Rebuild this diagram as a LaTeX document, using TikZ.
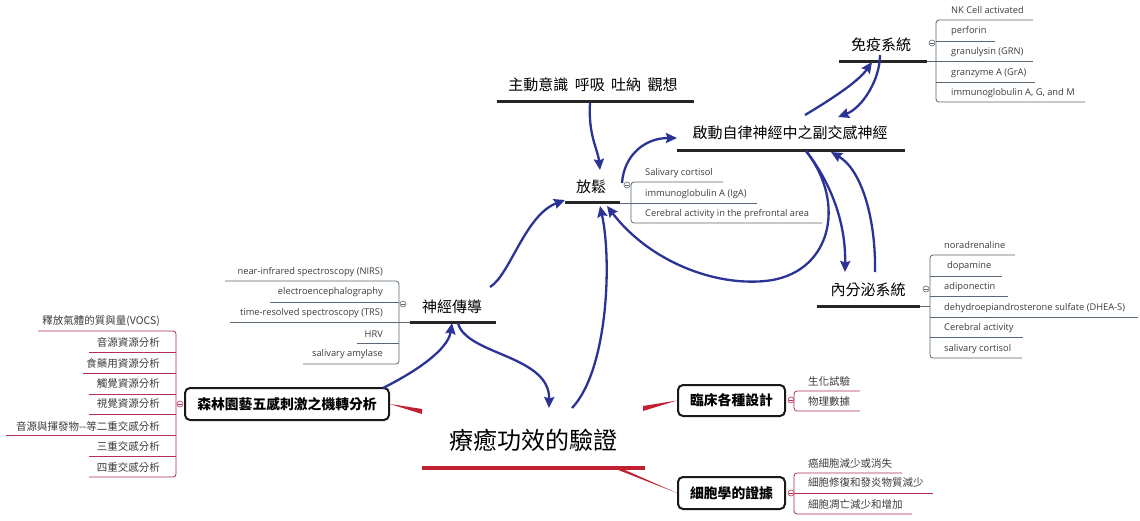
\documentclass[tikz,border=0pt]{standalone}
\usepackage{fontspec}
\setmainfont{Open Sans}
\newfontfamily\cjk{Noto Sans CJK TC}
\usetikzlibrary{arrows.meta}
\definecolor{arrblue}{RGB}{43,52,150}
\definecolor{redl}{RGB}{192,32,48}
\definecolor{pinkl}{RGB}{178,48,80}
\definecolor{slate}{RGB}{90,104,118}
\definecolor{txt}{RGB}{60,60,60}
\newcommand\mkrc[3]{\draw[#3,line width=0.6pt,fill=white] (#1,#2) circle (3pt); \draw[#3,line width=0.6pt] (#1-1.8,#2) -- (#1+1.8,#2);}
\begin{document}
\begin{tikzpicture}[x=1pt,y=-1pt,
 en/.style={inner sep=0pt,font=\fontsize{9.3}{10}\selectfont,text=txt},
 cn/.style={inner sep=0pt,font=\cjk\fontsize{10.5}{11}\selectfont,text=txt},
 topic/.style={inner sep=0pt,font=\cjk\fontsize{15}{16}\selectfont,text=black},
 boxn/.style={draw=black!90,line width=2pt,rounded corners=5pt,fill=white,inner sep=0pt,font=\cjk\bfseries\fontsize{13.8}{14}\selectfont},
 uline/.style={line width=3pt,draw=black!85},
 sub/.style={line width=0.8pt,draw=slate,rounded corners=3pt},
 subr/.style={line width=0.8pt,draw=pinkl,rounded corners=3pt},
 flow/.style={draw=arrblue,line width=2.3pt,-{Stealth[length=11pt,width=10pt,inset=1.5pt]}},
]
\useasboundingbox[fill=white] (0,0) rectangle (1140,520);

% ---------- main topic ----------
\node[inner sep=0pt,font=\cjk\fontsize{24}{26}\selectfont] (main) at (533,440) {療癒功效的驗證};
\draw[line width=4.5pt,draw=redl] (422,468) -- (645,468);

% ---------- topics ----------
\node[topic] (zd) at (593,85) {主動意識\hspace{3pt} 呼吸\hspace{3pt} 吐納\hspace{3pt} 觀想};
\draw[uline] (497,101) -- (694,101);
\node[topic] (qd) at (790,133) {啟動自律神經中之副交感神經};
\draw[uline] (677,150) -- (905,150);
\node[topic] (fs) at (591,187) {放鬆};
\draw[uline] (565,202) -- (620,202);
\node[topic] (my) at (881,45) {免疫系統};
\draw[uline] (839,61) -- (927,61);
\node[topic] (nf) at (868,290) {內分泌系統};
\draw[uline] (817,306) -- (920,306);
\node[topic] (sj) at (452,307) {神經傳導};
\draw[uline] (410,322) -- (496,322);

% ---------- boxes ----------
\node[boxn,minimum width=204pt,minimum height=32pt] (sl) at (287,404) {森林園藝五感刺激之機轉分析};
\node[boxn,minimum width=107pt,minimum height=31pt] (lc) at (731.5,400.5) {臨床各種設計};
\node[boxn,minimum width=107pt,minimum height=32pt] (xb) at (731.5,493) {細胞學的證據};

% red connectors
\coordinate (mL) at (422,411.5);
\coordinate (mR) at (643,408.5);
\coordinate (mB) at (617,468);
\fill[redl] (sl.east) -- ([yshift=-2.5pt]mL) -- ([yshift=2.5pt]mL) -- cycle;
\fill[redl] (lc.west) -- ([yshift=-2.5pt]mR) -- ([yshift=2.5pt]mR) -- cycle;
\fill[redl] (xb.west) -- ([yshift=-1.5pt]mB) -- ([yshift=1.5pt]mB) -- cycle;

% ---------- 免疫系統 children ----------
\draw[sub] (1033,20) -- (936,20) -- (936,102) -- (1085,102);
\draw[sub] (936,41) -- (995,41);
\draw[sub] (927,61) -- (1033,61);
\draw[sub] (936,82) -- (1035,82);
\mkrc{932}{43}{slate}
\node[en,anchor=west] (my1) at (951,10) {NK Cell activated};
\node[en,anchor=west] (my2) at (951,31) {perforin};
\node[en,anchor=west] (my3) at (951,52) {granulysin (GRN)};
\node[en,anchor=west] (my4) at (951,73) {granzyme A (GrA)};
\node[en,anchor=west] (my5) at (951,93) {immunoglobulin A, G, and M};

% ---------- 放鬆 children ----------
\draw[sub] (723,182) -- (631,182) -- (631,223) -- (822,223);
\draw[sub] (620,203) -- (757,203);
\mkrc{627}{185}{slate}
\node[en,anchor=west] (fs1) at (645,173) {Salivary cortisol};
\node[en,anchor=west] (fs2) at (645,194) {immunoglobulin A (IgA)};
\node[en,anchor=west] (fs3) at (645,214) {Cerebral activity in the prefrontal area};

% ---------- 內分泌系統 children ----------
\draw[sub] (1015,255) -- (930,255) -- (930,358) -- (1022,358);
\draw[sub] (930,276) -- (1002,276);
\draw[sub] (930,296) -- (1008,296);
\draw[sub] (920,306) -- (930,306);
\draw[sub] (930,317) -- (1138,317);
\draw[sub] (930,337) -- (1023,337);
\mkrc{926}{289}{slate}
\node[en,anchor=west] (nf1) at (944,245) {noradrenaline};
\node[en,anchor=west] (nf2) at (947,266) {dopamine};
\node[en,anchor=west] (nf3) at (944,287) {adiponectin};
\node[en,anchor=west] (nf4) at (944,308) {dehydroepiandrosterone sulfate (DHEA-S)};
\node[en,anchor=west] (nf5) at (944,328) {Cerebral activity};
\node[en,anchor=west] (nf6) at (944,349) {salivary cortisol};

% ---------- 神經傳導 children ----------
\draw[sub] (225,281) -- (399,281) -- (399,364) -- (303,364);
\draw[sub] (270,302) -- (399,302);
\draw[sub] (230,322) -- (410,322);
\draw[sub] (357,343) -- (399,343);
\mkrc{403}{304}{slate}
\node[en,anchor=east] (sj1) at (383,272) {near-infrared spectroscopy (NIRS)};
\node[en,anchor=east] (sj2) at (383,292) {electroencephalography};
\node[en,anchor=east] (sj3) at (383,313) {time-resolved spectroscopy (TRS)};
\node[en,anchor=east] (sj4) at (383,334) {HRV};
\node[en,anchor=east] (sj5) at (383,354) {salivary amylase};

% ---------- 森林 children ----------
\draw[subr] (38,331) -- (176,331) -- (176,477) -- (89,477);
\draw[subr] (89,352) -- (176,352);
\draw[subr] (83,373) -- (176,373);
\draw[subr] (89,394) -- (176,394);
\draw[subr] (89,414) -- (176,414);
\draw[subr] (6,435) -- (176,435);
\draw[subr] (89,456) -- (176,456);
\mkrc{180}{404}{pinkl}
\node[cn,anchor=east] (sl1) at (160,321) {釋放氣體的質與量(VOCS)};
\node[cn,anchor=east] (sl2) at (160,342) {音源資源分析};
\node[cn,anchor=east] (sl3) at (160,363) {食藥用資源分析};
\node[cn,anchor=east] (sl4) at (160,384) {觸覺資源分析};
\node[cn,anchor=east] (sl5) at (160,404) {視覺資源分析};
\node[cn,anchor=east] (sl6) at (160,426) {音源與揮發物--等二重交感分析};
\node[cn,anchor=east] (sl7) at (160,446) {三重交感分析};
\node[cn,anchor=east] (sl8) at (160,467) {四重交感分析};

% ---------- 臨床 children ----------
\draw[subr] (860,391) -- (794,391) -- (794,411) -- (860,411);
\mkrc{791}{400}{pinkl}
\node[cn,anchor=west] (lc1) at (808,381) {生化試驗};
\node[cn,anchor=west] (lc2) at (808,402) {物理數據};

% ---------- 細胞 children ----------
\draw[subr] (902,473) -- (794,473) -- (794,514) -- (912,514);
\draw[subr] (794,493) -- (933,493);
\mkrc{791}{493}{pinkl}
\node[cn,anchor=west] (xb1) at (808,463) {癌細胞減少或消失};
\node[cn,anchor=west] (xb2) at (808,483) {細胞修復和發炎物質減少};
\node[cn,anchor=west] (xb3) at (808,504) {細胞凋亡減少和增加};

% ---------- arrow end points ----------
\coordinate (zdS) at (590,103);   \coordinate (fsT1) at (600,170);
\coordinate (fsS) at (622,183);   \coordinate (qdL) at (677,138);
\coordinate (qdS1) at (805,115);  \coordinate (myT) at (872,62);
\coordinate (myS) at (880,55);    \coordinate (qdT1) at (838,117);
\coordinate (qdS2) at (806,151);  \coordinate (nfT) at (845,272);
\coordinate (nfS) at (875,272);   \coordinate (qdT2) at (831,152);
\coordinate (fsT2) at (607,206);
\coordinate (sjS) at (490,287);   \coordinate (fsT3) at (565,200);
\coordinate (mS) at (572,408);    \coordinate (fsT4) at (600,206);
\coordinate (sjS2) at (458,323);  \coordinate (mT) at (549,408);
\coordinate (slS) at (383,388);   \coordinate (sjT) at (452,323);

% ---------- flow arrows ----------
\draw[flow] (zdS) .. controls (588,135) and (598,150) .. (fsT1);
\draw[flow] (fsS) .. controls (624,155) and (645,138) .. (qdL);
\draw[flow] (qdS1) .. controls (830,100) and (858,82) .. (myT);
\draw[flow] (myS) .. controls (880,80) and (862,108) .. (qdT1);
\draw[flow] (qdS2) .. controls (825,175) and (846,215) .. (nfT);
\draw[flow] (nfS) .. controls (876,220) and (862,170) .. (qdT2);
\draw[flow] (qdS2) .. controls (848,205) and (830,275) .. (765,281) .. controls (715,286) and (650,262) .. (fsT2);
\draw[flow] (sjS) .. controls (510,275) and (525,215) .. (fsT3);
\draw[flow] (mS) .. controls (608,370) and (612,260) .. (fsT4);
\draw[flow] (sjS2) .. controls (466,355) and (550,355) .. (mT);
\draw[flow] (slS) .. controls (415,372) and (448,350) .. (sjT);
\end{tikzpicture}
\end{document}
